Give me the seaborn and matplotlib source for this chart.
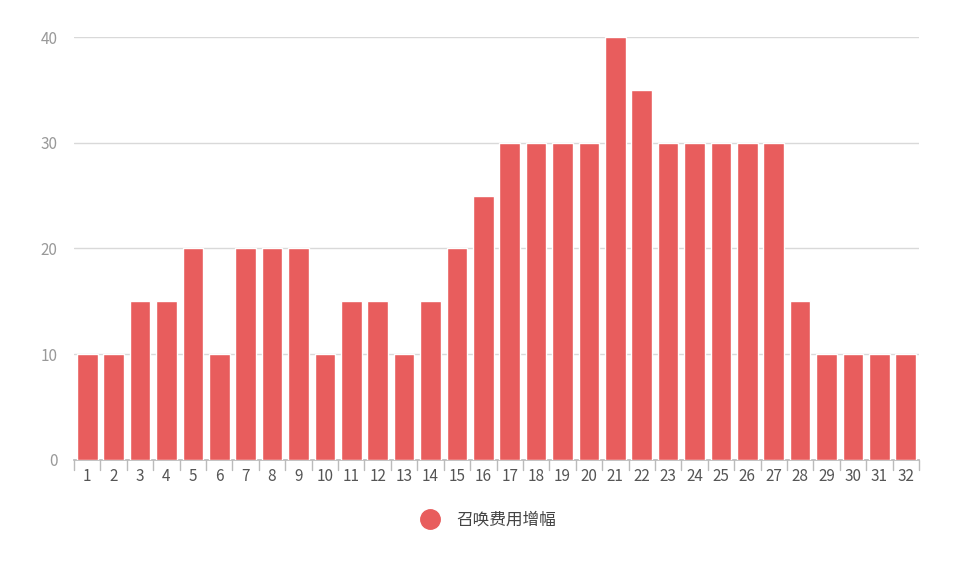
import matplotlib
matplotlib.use("Agg")
import matplotlib.pyplot as plt
import seaborn as sns
import pandas as pd
from matplotlib.lines import Line2D

categories = [str(i) for i in range(1, 33)]
values = [10, 10, 15, 15, 20, 10, 20, 20, 20, 10, 15, 15, 10, 15, 20, 25,
          30, 30, 30, 30, 40, 35, 30, 30, 30, 30, 30, 15, 10, 10, 10, 10]
series_name = "召唤费用增幅"
yticks = [0, 10, 20, 30, 40]

sns.set_theme(style="white")
plt.rcParams['font.family'] = ['Noto Sans CJK SC', 'DejaVu Sans']

color = "#e85d5d"
df = pd.DataFrame({"cat": categories, "val": values})
fig = plt.figure(figsize=(9.6, 5.79), dpi=100)
ax = fig.add_axes([74/960, 1-460/579, 845/960, 423/579])
sns.barplot(data=df, x="cat", y="val", color=color, width=0.78, saturation=1, ax=ax, zorder=3)
ax.set_ylim(0, 40)
ax.set_xlim(-0.5, 31.5)
ax.set_yticks(yticks)
ax.yaxis.grid(True, color="#d9d9d9", linewidth=1, zorder=0)
ax.set_xlabel("")
ax.set_ylabel("")
for s in ["top", "right", "left"]:
    ax.spines[s].set_visible(False)
ax.spines["bottom"].set_color("#bbbbbb")
ax.tick_params(axis="y", length=0, labelsize=11, labelcolor="#999999", pad=12)
ax.tick_params(axis="x", length=0, labelsize=11, labelcolor="#555555", pad=6)
for i in range(33):
    ax.plot([i - 0.5, i - 0.5], [0, -0.9], color="#bbbbbb", lw=1, clip_on=False)
handle = Line2D([], [], marker="o", linestyle="", markersize=14, color=color)
fig.legend([handle], [series_name], loc="center", bbox_to_anchor=(485/960, 1-520/579),
           frameon=False, fontsize=12, handletextpad=0.6, labelcolor="#444444")
fig.savefig("out.png", dpi=100)
